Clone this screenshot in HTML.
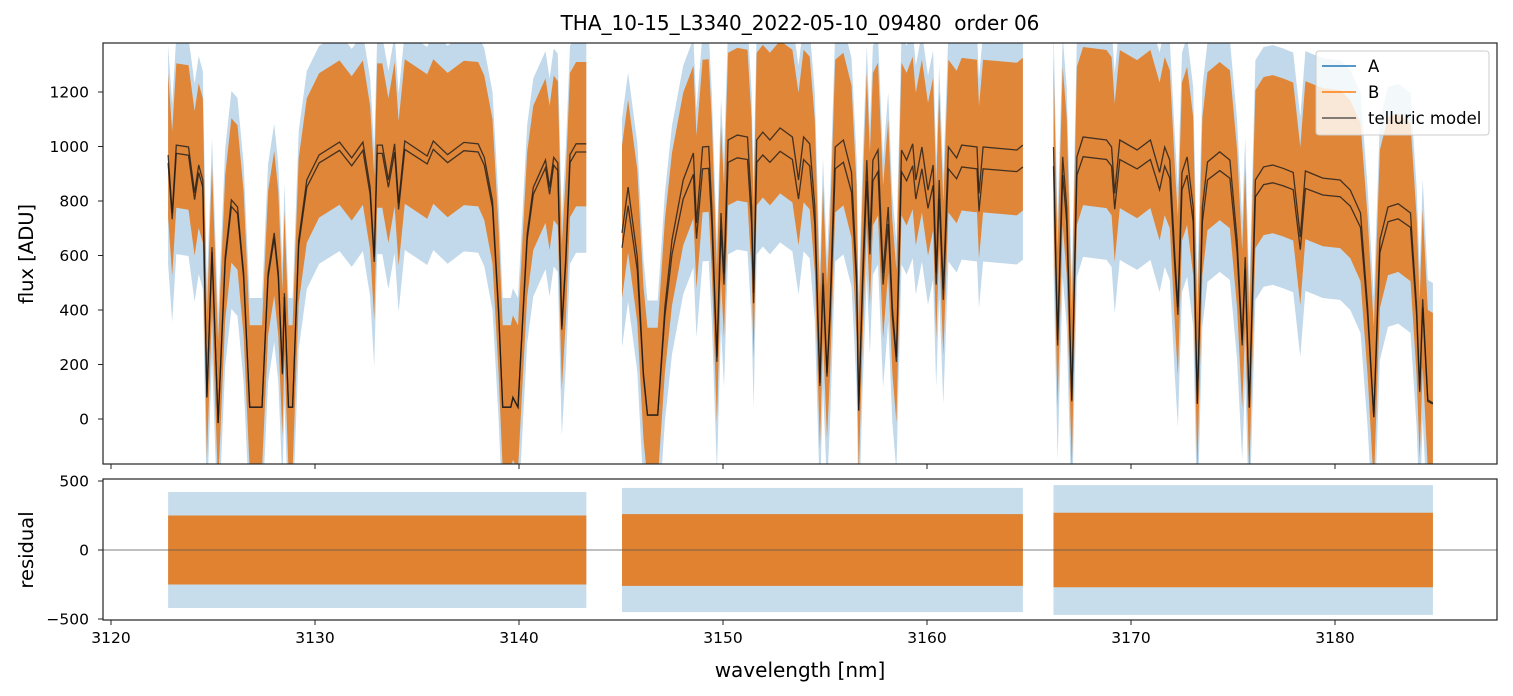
<!DOCTYPE html>
<html><head><meta charset="utf-8"><style>
html,body{margin:0;padding:0;background:#fff;}
svg{display:block;font-family:"DejaVu Sans","Liberation Sans",sans-serif;}
</style></head><body>
<svg id="chart" width="1513" height="696" viewBox="0 0 1513 696" xmlns="http://www.w3.org/2000/svg">
<defs>
<clipPath id="clipTop"><rect x="103" y="43" width="1394" height="421"/></clipPath>
<clipPath id="clipBot"><rect x="103" y="479" width="1394" height="141"/></clipPath>
</defs>
<text x="800" y="30" font-size="20" text-anchor="middle" style="white-space:pre" xml:space="preserve">THA_10-15_L3340_2022-05-10_09480  order 06</text>
<g id="topPanel"></g>
<g id="botPanel"></g>
<text transform="translate(33,254) rotate(-90)" font-size="19.5" text-anchor="middle">flux [ADU]</text>
<text transform="translate(33,550) rotate(-90)" font-size="19.5" text-anchor="middle">residual</text>
<text x="800" y="677" font-size="20" text-anchor="middle">wavelength [nm]</text>
<g>
<rect x="1316" y="51" width="173" height="84" rx="3" fill="#fff" fill-opacity="0.8" stroke="#ccc"/>
<line x1="1322" y1="66" x2="1356" y2="66" stroke="#1f77b4" stroke-width="1.5"/>
<text x="1368" y="72" font-size="16.5">A</text>
<line x1="1322" y1="92" x2="1356" y2="92" stroke="#ff7f0e" stroke-width="1.5"/>
<text x="1368" y="98" font-size="16.5">B</text>
<line x1="1322" y1="118" x2="1356" y2="118" stroke="#333" stroke-opacity="0.8" stroke-width="1.5"/>
<text x="1368" y="124" font-size="16.5">telluric model</text>
</g>
</svg>
<script>
// data arrays
const seg1Wl=[3122.8,3123.0,3123.2,3123.8,3124.1,3124.3,3124.5,3124.7,3124.95,3125.25,3125.6,3125.9,3126.2,3126.5,3126.8,3127.4,3127.7,3128.0,3128.2,3128.4,3128.5,3128.7,3128.9,3129.2,3129.6,3130.2,3131.2,3131.8,3132.35,3132.7,3132.9,3133.05,3133.3,3133.6,3133.9,3134.1,3134.4,3135.5,3135.8,3136.5,3137.3,3138.0,3138.3,3138.7,3139.0,3139.2,3139.6,3139.7,3139.95,3140.2,3140.4,3140.7,3141.0,3141.3,3141.5,3141.7,3141.9,3142.1,3142.3,3142.5,3142.8,3143.3];
const seg1Flux=[969,756,1005,998,830,932,877,81,631,-15,594,804,778,536,44,44,536,683,536,169,462,44,44,657,877,969,1016,958,1016,851,594,1005,1005,877,1010,793,1020,965,1020,970,1015,1010,960,800,400,44,44,80,44,400,680,850,900,950,850,960,940,338,600,970,1010,1010];
const seg2Wl=[3145.05,3145.35,3145.8,3146.1,3146.3,3146.8,3147.15,3147.5,3148.05,3148.55,3148.7,3149.0,3149.3,3149.45,3149.7,3149.9,3150.05,3150.25,3150.7,3151.2,3151.4,3151.5,3151.65,3151.95,3152.3,3152.8,3153.4,3153.7,3153.95,3154.25,3154.5,3154.75,3154.9,3155.1,3155.25,3155.5,3155.9,3156.3,3156.55,3156.65,3156.85,3157.05,3157.2,3157.35,3157.6,3157.85,3158.1,3158.3,3158.5,3158.75,3159.0,3159.3,3159.45,3159.75,3160.05,3160.3,3160.45,3160.6,3160.8,3161.05,3161.45,3161.7,3162.45,3162.55,3162.75,3164.4,3164.7];
const seg2Flux=[683,851,594,169,15,15,411,657,877,976,719,998,1000,778,228,756,536,1024,1042,1035,778,462,1024,1053,1024,1068,1035,877,1035,1010,778,132,536,169,411,998,1024,905,536,33,536,950,657,950,987,536,778,411,228,987,950,1010,877,998,840,932,536,877,475,998,958,1005,998,828,998,987,1005];
const seg3Wl=[3166.2,3166.4,3166.65,3166.85,3167.1,3167.35,3167.65,3168.8,3169.05,3169.2,3169.45,3170.3,3170.95,3171.4,3171.65,3171.9,3172.15,3172.3,3172.5,3172.75,3173.05,3173.25,3173.5,3173.75,3174.35,3174.85,3175.2,3175.45,3175.6,3175.8,3176.1,3176.5,3176.95,3177.45,3177.95,3178.3,3178.55,3179.4,3180.25,3180.75,3181.25,3181.6,3181.9,3182.2,3182.6,3183.1,3183.7,3184.0,3184.15,3184.3,3184.55,3184.8];
const seg3Flux=[998,290,962,778,70,962,1035,1024,998,828,1024,987,1024,905,998,950,594,411,905,962,778,59,778,943,980,950,657,290,594,44,877,925,932,920,905,668,910,884,877,840,756,411,7,657,778,790,756,411,106,440,70,59];
const modelBRatio=[0.97,0.92,0.93];
const noiseBUp=[300,320,330];
const noiseBDown=[230,240,250];
const noiseA=[400,420,440];
const residB=[250,260,270];
const residA=[420,450,470];
const xTicks=[3120,3130,3140,3150,3160,3170,3180];
const yTicksTop=[0,200,400,600,800,1000,1200];
const yTicksBot=[-500,0,500];

const NS='http://www.w3.org/2000/svg';
const X=w=>111+(w-3120)*20.4;
const YT=f=>419-f*0.2725;
const YB=r=>550-r*0.138;
function mk(tag,attrs,parent){const e=document.createElementNS(NS,tag);for(const k in attrs)e.setAttribute(k,attrs[k]);parent.appendChild(e);return e;}
const topG=document.getElementById('topPanel'), botG=document.getElementById('botPanel');
const segs=[[seg1Wl,seg1Flux],[seg2Wl,seg2Flux],[seg3Wl,seg3Flux]];
const gTop=mk('g',{'clip-path':'url(#clipTop)'},topG);
const gBot=mk('g',{'clip-path':'url(#clipBot)'},botG);
function band(wl,fl,up,dn,Y){
  let u=[],lo=[];
  for(let i=0;i<wl.length;i++){u.push(X(wl[i]).toFixed(1)+','+Y(fl[i]+up).toFixed(1));lo.unshift(X(wl[i]).toFixed(1)+','+Y(fl[i]-dn).toFixed(1));}
  return u.concat(lo).join(' ');
}
segs.forEach((s,i)=>{
  const [wl,fl]=s;
  let p=mk('polygon',{points:band(wl,fl,noiseA[i],noiseA[i],YT),fill:'#1f77b4','fill-opacity':'0.28'},gTop);
  
  
  p=mk('polygon',{points:band(wl,fl,noiseBUp[i],noiseBDown[i],YT),fill:'#e0822f','fill-opacity':'0.95'},gTop);
  
  
  [1,modelBRatio[i]].forEach(sc=>{
    const pts=wl.map((w,j)=>X(w).toFixed(1)+','+YT(fl[j]*sc).toFixed(1)).join(' ');
    const l=mk('polyline',{points:pts,fill:'none',stroke:'#1a1a1a','stroke-opacity':'0.8','stroke-width':'1.3'},gTop);
    
    
  });
  const x0=X(wl[0]),x1=X(wl[wl.length-1]);
  let r=mk('rect',{x:x0,y:YB(residA[i]),width:x1-x0,height:YB(-residA[i])-YB(residA[i]),fill:'#1f77b4','fill-opacity':'0.25'},gBot);
  
  
  r=mk('rect',{x:x0,y:YB(residB[i]),width:x1-x0,height:YB(-residB[i])-YB(residB[i]),fill:'#e0822f'},gBot);
  
  
});
let zl=mk('line',{x1:103,x2:1497,y1:YB(0),y2:YB(0),stroke:'#555','stroke-width':'0.8'},botG);


mk('rect',{x:103,y:43,width:1394,height:421,fill:'none',stroke:'#222','stroke-width':'1.2'},topG);
mk('rect',{x:103,y:479,width:1394,height:141,fill:'none',stroke:'#222','stroke-width':'1.2'},botG);
xTicks.forEach(t=>{
  mk('line',{x1:X(t),x2:X(t),y1:464,y2:469,stroke:'#222'},topG);
  mk('line',{x1:X(t),x2:X(t),y1:620,y2:625,stroke:'#222'},botG);
  const tx=mk('text',{x:X(t),y:643,'font-size':'15.5','text-anchor':'middle'},botG);
  tx.textContent=t;
  
  
});
yTicksTop.forEach(t=>{
  mk('line',{x1:98,x2:103,y1:YT(t),y2:YT(t),stroke:'#222'},topG);
  const tx=mk('text',{x:89,y:YT(t)+5.5,'font-size':'15.5','text-anchor':'end'},topG);
  tx.textContent=t;
  
  
});
yTicksBot.forEach(t=>{
  mk('line',{x1:98,x2:103,y1:YB(t),y2:YB(t),stroke:'#222'},botG);
  const tx=mk('text',{x:89,y:YB(t)+5.5,'font-size':'15.5','text-anchor':'end'},botG);
  tx.textContent=t<0?'\u2212'+(-t):t;
  
  
});
</script>
</body></html>
